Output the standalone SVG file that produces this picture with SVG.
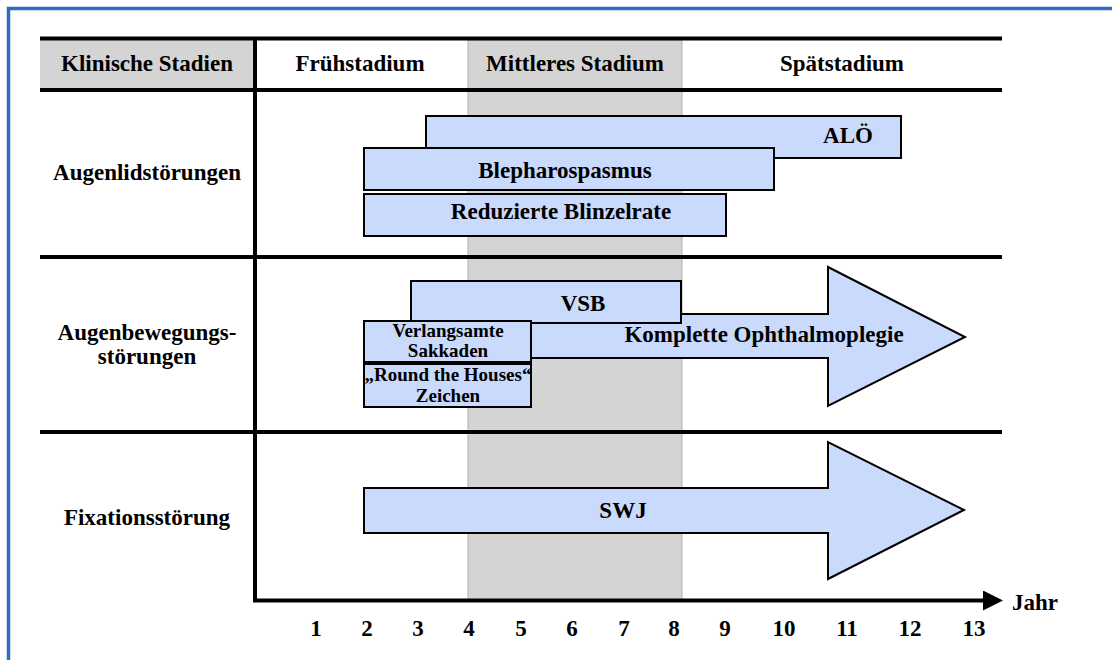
<svg xmlns="http://www.w3.org/2000/svg" width="1112" height="660" viewBox="0 0 1112 660">
<style>
text{font-family:"Liberation Serif","Times New Roman",serif;font-weight:bold;fill:#000;text-anchor:middle}
.t{font-size:23px}
.s{font-size:19px}
.bar{fill:#c9dafc;stroke:#000;stroke-width:2}
.ln{stroke:#000;stroke-width:4;fill:none}
</style>
<defs>
<marker id="ah" viewBox="0 0 20 20" refX="0" refY="10" markerWidth="20" markerHeight="20" markerUnits="userSpaceOnUse" orient="auto">
<path d="M0,0 L20,10 L0,20 Z" fill="#000"/>
</marker>
</defs>
<rect x="0" y="0" width="1112" height="660" fill="#fff"/>
<rect x="8.5" y="8.5" width="1130" height="700" fill="none" stroke="#2e6dc2" stroke-width="3.5"/>
<g id="background">
<rect x="40" y="40" width="214" height="49" fill="#d4d4d4"/>
<rect x="468" y="40" width="214" height="560" fill="#d4d4d4" stroke="#b0b0b0" stroke-width="1"/>
</g>
<g id="connectors">
<line class="ln" x1="40" y1="38.5" x2="1002" y2="38.5"/>
<line class="ln" x1="40" y1="90" x2="1002" y2="90"/>
<line class="ln" x1="40" y1="257" x2="1002" y2="257"/>
<line class="ln" x1="40" y1="432" x2="1002" y2="432"/>
<line class="ln" x1="255" y1="37" x2="255" y2="602"/>
<line class="ln" x1="253" y1="600.5" x2="983" y2="600.5" marker-end="url(#ah)"/>
</g>
<g id="header">
<text class="t" x="147" y="71">Klinische Stadien</text>
<text class="t" x="360" y="71">Frühstadium</text>
<text class="t" x="575" y="71">Mittleres Stadium</text>
<text class="t" x="842" y="71">Spätstadium</text>
</g>
<g id="rows">
<text class="t" x="147" y="180">Augenlidstörungen</text>
<text class="t" x="147" y="340">Augenbewegungs-</text>
<text class="t" x="147" y="364">störungen</text>
<text class="t" x="147" y="525">Fixationsstörung</text>
</g>
<g id="alo"><rect class="bar" x="426" y="116" width="475" height="42"/><text class="t" x="848" y="143">ALÖ</text></g>
<g id="blepharospasmus"><rect class="bar" x="364" y="148" width="410" height="42"/><text class="t" x="565" y="178">Blepharospasmus</text></g>
<g id="blinzelrate"><rect class="bar" x="364" y="194" width="362" height="42"/><text class="t" x="561" y="219">Reduzierte Blinzelrate</text></g>
<g id="ophthalmoplegie"><polygon class="bar" points="430,314 828,314 828,267 965,337 828,406 828,358 430,358"/></g>
<g id="vsb"><rect class="bar" x="411" y="281" width="270" height="42"/><text class="t" x="583" y="311">VSB</text></g>
<g id="sakkaden"><rect class="bar" x="364" y="321" width="167" height="41"/><text class="s" x="448" y="337">Verlangsamte</text><text class="s" x="448" y="357">Sakkaden</text></g>
<g id="roundhouses"><rect class="bar" x="364" y="364" width="167" height="43"/><text class="s" x="448" y="381">„Round the Houses“</text><text class="s" x="448" y="402">Zeichen</text></g>
<text class="t" x="764" y="342">Komplette Ophthalmoplegie</text>
<g id="swj"><polygon class="bar" points="364,488 828,488 828,442 964,510 828,579 828,533 364,533"/><text class="t" x="623" y="518">SWJ</text></g>
<g id="axis-labels">
<text class="t" x="316" y="636">1</text>
<text class="t" x="367" y="636">2</text>
<text class="t" x="418" y="636">3</text>
<text class="t" x="469" y="636">4</text>
<text class="t" x="521" y="636">5</text>
<text class="t" x="572" y="636">6</text>
<text class="t" x="624" y="636">7</text>
<text class="t" x="674" y="636">8</text>
<text class="t" x="725" y="636">9</text>
<text class="t" x="784" y="636">10</text>
<text class="t" x="847" y="636">11</text>
<text class="t" x="910" y="636">12</text>
<text class="t" x="974" y="636">13</text>
<text class="t" x="1035" y="610">Jahr</text>
</g>
</svg>
